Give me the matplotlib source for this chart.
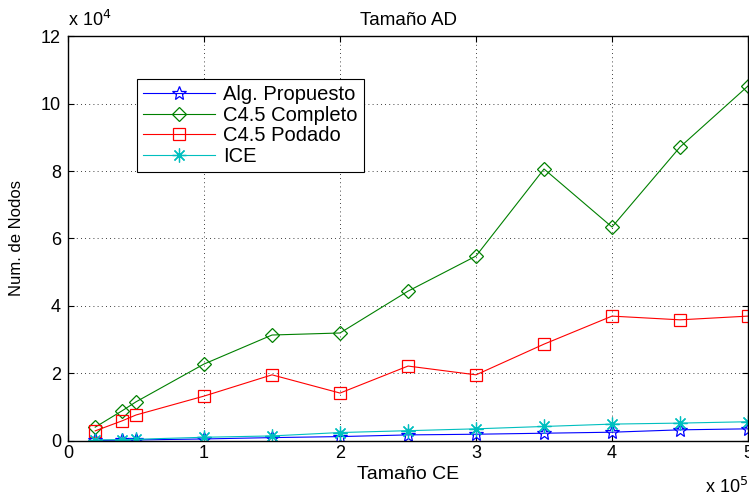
import matplotlib.pyplot as plt
from matplotlib.ticker import FuncFormatter

plt.rcParams['font.family'] = ['Liberation Sans', 'DejaVu Sans']

# Tamaño del conjunto de entrenamiento
tamano_ce = [2e4, 4e4, 5e4, 1e5, 1.5e5, 2e5, 2.5e5, 3e5, 3.5e5, 4e5, 4.5e5, 5e5]

alg_propuesto = [150, 250, 300, 600, 1000, 1300, 1800, 2000, 2300, 2600, 3300, 3600]
c45_completo = [4100, 9000, 11600, 22800, 31400, 32000, 44400, 54800, 80600, 63400, 87100, 105200]
c45_podado = [3000, 6000, 7700, 13300, 19600, 14200, 22200, 19600, 28700, 37000, 35900, 37000]
ice = [300, 400, 500, 1100, 1500, 2500, 3050, 3600, 4300, 5000, 5300, 5700]

fig = plt.figure(figsize=(7.49, 4.92), dpi=100)
ax = fig.add_axes([0.0908, 0.1037, 0.9079, 0.8231])

ax.plot(tamano_ce, alg_propuesto, color='blue', lw=0.8, marker='*', ms=10,
        mfc='none', mec='blue', mew=0.9, label='Alg. Propuesto')
ax.plot(tamano_ce, c45_completo, color='green', lw=0.8, marker='D', ms=7.5,
        mfc='none', mec='green', mew=0.9, label='C4.5 Completo')
ax.plot(tamano_ce, c45_podado, color='red', lw=0.8, marker='s', ms=8.5,
        mfc='none', mec='red', mew=0.9, label='C4.5 Podado')
ax.plot(tamano_ce, ice, color='c', lw=0.8, marker=(8, 2, 0), ms=10,
        mec='c', mew=0.9, label='ICE')

ax.set_xlim(0, 5e5)
ax.set_ylim(0, 12e4)
ax.set_xticks([0, 1e5, 2e5, 3e5, 4e5, 5e5])
ax.set_yticks([0, 2e4, 4e4, 6e4, 8e4, 10e4, 12e4])
ax.xaxis.set_major_formatter(FuncFormatter(lambda v, p: f'{v / 1e5:g}'))
ax.yaxis.set_major_formatter(FuncFormatter(lambda v, p: f'{v / 1e4:g}'))
ax.tick_params(direction='in', labelsize=13, top=True, right=True, length=4)
ax.tick_params(axis='x', pad=3)
ax.tick_params(axis='y', pad=5)
ax.grid(True, linestyle=(0, (1, 4)), color='black', lw=0.6)
for s in ax.spines.values():
    s.set_linewidth(1.0)

ax.set_title('Tamaño AD', fontsize=13.5, pad=8)
ax.set_xlabel('Tamaño CE', fontsize=14, labelpad=3)
ax.set_ylabel('Num. de Nodos', fontsize=12, labelpad=12)

# multiplicadores estilo MATLAB
ax.text(0.0, 1.015, r'x 10$^4$', transform=ax.transAxes, fontsize=13, va='bottom', ha='left')
ax.text(1.0, -0.088, r'x 10$^5$', transform=ax.transAxes, fontsize=13, va='top', ha='right')

leg = ax.legend(loc='upper left', bbox_to_anchor=(0.101, 0.894), fontsize=14.5,
                frameon=True, fancybox=False, edgecolor='black', framealpha=1,
                handlelength=3.6, handletextpad=0.4, borderpad=0.3,
                labelspacing=0.08, borderaxespad=0)
leg.get_frame().set_linewidth(0.8)

fig.savefig('out.png', dpi=100)
